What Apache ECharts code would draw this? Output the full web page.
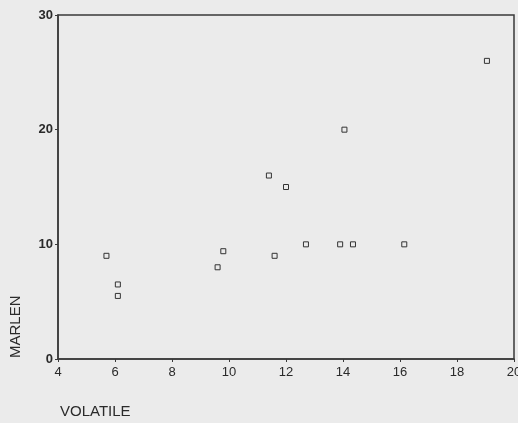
<!DOCTYPE html>
<html>
<head>
<meta charset="utf-8">
<script src="https://cdn.jsdelivr.net/npm/echarts@6/dist/echarts.min.js"></script>
<style>
html,body{margin:0;padding:0;background:#ebebeb;}
#c{width:518px;height:423px;}
</style>
</head>
<body>
<div id="c"></div>
<script>
const volatile = [5.7, 6.1, 6.1, 9.8, 11.6, 9.6, 11.4, 12.0, 12.7, 13.9, 14.35, 16.15, 14.05, 19.05];
const marlen   = [9,   6.5, 5.5, 9.4, 9,    8,   16,   15,   10,   10,   10,    10,    20,    26];
const xTicks = [4, 6, 8, 10, 12, 14, 16, 18, 20];
const yTicks = [0, 10, 20, 30];
const xTitle = 'VOLATILE';
const yTitle = 'MARLEN';

const points = volatile.map((v, i) => [v, marlen[i]]);
const chart = echarts.init(document.getElementById('c'), null, {renderer: 'canvas'});
const axisColor = '#3a3a3a';
chart.setOption({
  backgroundColor: '#ebebeb',
  animation: false,
  grid: {left: 58, right: 4, top: 15, bottom: 64, containLabel: false, outerBoundsMode: 'none', show: true, borderColor: axisColor, borderWidth: 1.5, backgroundColor: 'transparent'},
  xAxis: {
    type: 'value', min: xTicks[0], max: xTicks[xTicks.length - 1], interval: 2,
    axisLine: {lineStyle: {color: axisColor, width: 1.5}},
    axisTick: {show: true, length: 3, lineStyle: {color: axisColor}},
    axisLabel: {color: '#2a2a2a', fontSize: 13, fontFamily: 'Liberation Sans, Arial', margin: 7, showMaxLabel: true, showMinLabel: true},
    splitLine: {show: false}
  },
  yAxis: {
    type: 'value', min: yTicks[0], max: yTicks[yTicks.length - 1], interval: 10,
    axisLine: {show: true, lineStyle: {color: axisColor, width: 1.5}},
    axisTick: {show: true, length: 3, lineStyle: {color: axisColor}},
    axisLabel: {color: '#2a2a2a', fontSize: 13, fontWeight: 'bold', fontFamily: 'Liberation Sans, Arial', margin: 5},
    splitLine: {show: false}
  },
  graphic: [
    {type: 'text', left: 60, top: 404, style: {text: xTitle, fontSize: 15, fontFamily: 'Liberation Sans, Arial', fill: '#2a2a2a'}},
    {type: 'text', x: 8, y: 358, rotation: Math.PI / 2, style: {text: yTitle, fontSize: 15, fontFamily: 'Liberation Sans, Arial', fill: '#2a2a2a', align: 'left', verticalAlign: 'top'}}
  ],
  series: [{
    type: 'scatter',
    data: points,
    symbol: 'rect',
    symbolSize: 5,
    itemStyle: {color: 'rgba(0,0,0,0)', borderColor: '#333', borderWidth: 1, opacity: 1}
  }]
});
</script>
</body>
</html>
